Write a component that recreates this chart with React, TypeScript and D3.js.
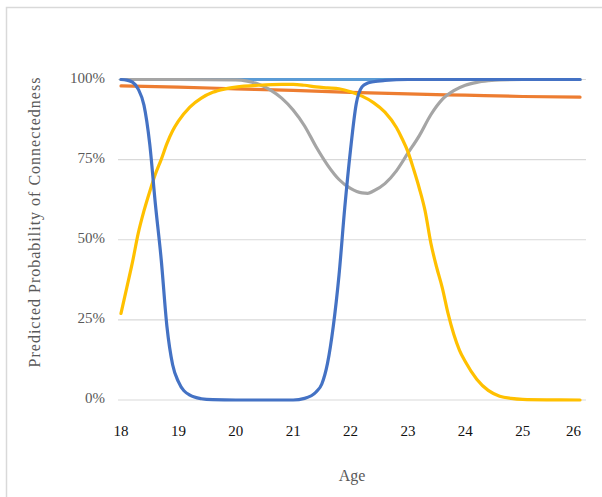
import React from "react";
import * as d3 from "d3";

const yTicks = [0, 25, 50, 75, 100];
const xTicks = [18, 19, 20, 21, 22, 23, 24, 25, 26];

const lightBlueAges = [18, 26];
const lightBlueVals = [100, 100];

const orangeAges = [18, 19, 20, 21, 22, 23, 24, 25, 26];
const orangeVals = [98.0, 97.6, 97.1, 96.6, 96.0, 95.5, 95.1, 94.7, 94.5];

const grayAges = [18, 19, 20, 20.2, 20.4, 20.6, 20.8, 21.0, 21.2, 21.4, 21.6, 21.8, 22.0, 22.2, 22.3, 22.4, 22.6, 22.8, 23.0, 23.2, 23.4, 23.6, 23.8, 24.0, 24.2, 24.4, 24.6, 25, 26];
const grayVals = [100, 100, 99.9, 99.5, 98.5, 96.8, 94.2, 90.5, 85.5, 79, 73.3, 68.8, 66, 64.6, 64.5, 65.2, 67.5, 71.5, 77, 82.5, 89, 93.8, 96.5, 98.2, 99.1, 99.6, 99.9, 100, 100];

const yellowAges = [18, 18.1, 18.2, 18.3, 18.4, 18.5, 18.6, 18.7, 18.8, 18.9, 19.0, 19.2, 19.4, 19.6, 19.8, 20.0, 20.4, 20.8, 21.0, 21.2, 21.4, 21.6, 21.8, 22.0, 22.2, 22.4, 22.6, 22.8, 22.9, 23.0, 23.1, 23.2, 23.3, 23.4, 23.5, 23.6, 23.7, 23.8, 23.9, 24.0, 24.2, 24.4, 24.6, 24.8, 25.0, 25.5, 26];
const yellowVals = [27, 35, 43, 52, 59, 65, 70.5, 75, 80, 84, 87, 91.4, 94.2, 96, 97, 97.6, 98.2, 98.5, 98.5, 98.2, 97.7, 97.4, 97.1, 96.2, 94.8, 92.8, 89.8, 85, 81.5, 77.5, 72, 66, 59, 49, 41.5, 35, 27, 20.5, 15.5, 12, 6.5, 3, 1.2, 0.5, 0.2, 0.05, 0];

const blueAges = [18, 18.1, 18.2, 18.3, 18.4, 18.5, 18.6, 18.7, 18.8, 18.9, 19.0, 19.2, 19.4, 19.6, 20, 21, 21.2, 21.4, 21.5, 21.6, 21.7, 21.8, 21.9, 22.0, 22.1, 22.2, 22.3, 22.4, 22.6, 23, 24, 25, 26];
const blueVals = [100, 99.8, 99.2, 97, 92, 80, 61, 44, 23, 11, 5.7, 1.5, 0.4, 0.1, 0, 0, 0.5, 2.5, 5, 11.5, 23, 39, 60, 78, 92.4, 97.7, 98.9, 99.3, 99.7, 100, 100, 100, 100];

const series = [
  { name: "S5", color: "#5B9BD5", ages: lightBlueAges, vals: lightBlueVals },
  { name: "S2", color: "#ED7D31", ages: orangeAges, vals: orangeVals },
  { name: "S3", color: "#A5A5A5", ages: grayAges, vals: grayVals },
  { name: "S4", color: "#FFC000", ages: yellowAges, vals: yellowVals },
  { name: "S1", color: "#4472C4", ages: blueAges, vals: blueVals },
];

export default function App() {
  const W = 602;
  const H = 497;
  const x = d3.scaleLinear().domain([18, 26]).range([121, 580]);
  const y = d3.scaleLinear().domain([0, 100]).range([400, 79.5]);
  const line = d3
    .line<[number, number]>()
    .x((d) => x(d[0]))
    .y((d) => y(d[1]))
    .curve(d3.curveMonotoneX);
  const serif = "'Liberation Serif', 'Times New Roman', serif";

  return (
    <svg
      width={W}
      height={H}
      style={{ position: "absolute", left: 0, top: 0, background: "#fff" }}
    >
      <rect x={6.5} y={7.5} width={620} height={520} fill="#fff" stroke="#d9d9d9" strokeWidth={1.5} />
      {yTicks.map((t) => (
        <g key={t}>
          <line x1={118} x2={586} y1={y(t)} y2={y(t)} stroke="#d9d9d9" strokeWidth={1.2} />
          <text
            x={105}
            y={y(t)}
            textAnchor="end"
            dominantBaseline="middle"
            fontFamily={serif}
            fontSize={15}
            fill="#595959"
          >
            {t}%
          </text>
        </g>
      ))}
      {xTicks.map((t, i) => {
        const last = i === xTicks.length - 1;
        return (
          <text
            key={t}
            x={last ? x(t) + 1 : x(t)}
            y={433}
            textAnchor={last ? "end" : "middle"}
            dominantBaseline="middle"
            fontFamily={serif}
            fontSize={15}
            fill="#111"
          >
            {t}
          </text>
        );
      })}
      {series.map((s) => (
        <path
          key={s.name}
          d={line(s.ages.map((a, i) => [a, s.vals[i]] as [number, number])) || ""}
          fill="none"
          stroke={s.color}
          strokeWidth={3.2}
          strokeLinecap="round"
          strokeLinejoin="round"
        />
      ))}
      <text
        x={352}
        y={477}
        textAnchor="middle"
        dominantBaseline="middle"
        fontFamily={serif}
        fontSize={16}
        fill="#595959"
      >
        Age
      </text>
      <text
        transform={`translate(36, 222) rotate(-90)`}
        textAnchor="middle"
        dominantBaseline="middle"
        fontFamily={serif}
        fontSize={16}
        letterSpacing={1}
        fill="#595959"
      >
        Predicted Probability of Connectedness
      </text>
    </svg>
  );
}
